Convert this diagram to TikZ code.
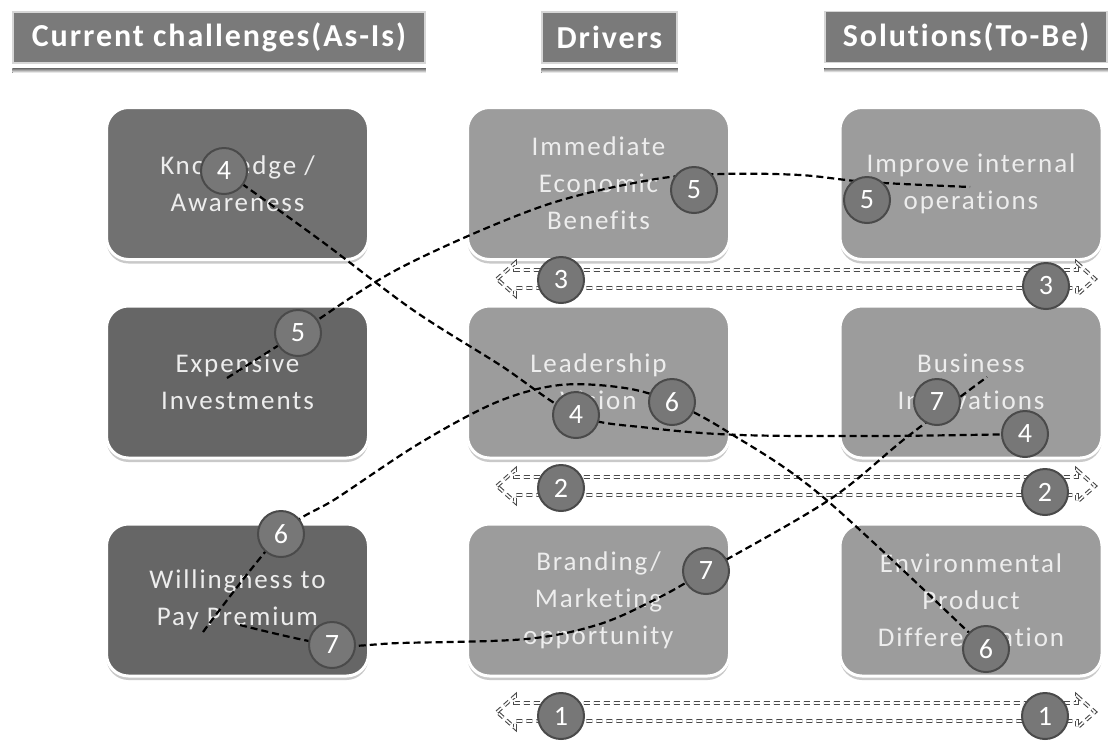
\documentclass[tikz,border=0pt]{standalone}
\usepackage{fontspec}
\setmainfont[Ligatures=NoCommon]{Carlito}
\newfontfamily\boxfont[LetterSpace=7,Ligatures=NoCommon]{Carlito}
\newfontfamily\headfont[LetterSpace=6,Ligatures=NoCommon]{Carlito}
\usetikzlibrary{shadows}
\definecolor{headgray}{HTML}{7A7A7A}
\definecolor{headrim}{HTML}{D6D6D6}
\definecolor{darkbox}{HTML}{666666}
\definecolor{knowbox}{HTML}{717171}
\definecolor{lightbox}{HTML}{9C9C9C}
\definecolor{badgefill}{HTML}{777777}
\definecolor{badgerim}{HTML}{4A4A4A}
\definecolor{boxtext}{HTML}{EDEDED}
\definecolor{shade}{HTML}{C4C4C4}
\definecolor{spanline}{HTML}{4A4A4A}
\pgfdeclarelayer{back}
\pgfdeclarelayer{wires}
\pgfsetlayers{back,wires,main}
\tikzset{
  headbox/.style={fill=headgray, draw=headrim, line width=1.5pt, text=white,
    font={\headfont\bfseries\fontsize{32}{32}\selectfont}, inner sep=0pt, minimum height=51pt},
  cardbase/.style={rounded corners=22pt, draw=white, line width=3pt,
    minimum width=262pt, minimum height=152pt, align=center, text=boxtext, inner sep=0pt,
    font={\boxfont\fontsize{27}{37}\selectfont},
    drop shadow={shadow xshift=0pt, shadow yshift=-4pt, fill=shade, opacity=0.9}},
  darkcard/.style={cardbase, fill=darkbox},
  knowcard/.style={cardbase, fill=knowbox},
  lightcard/.style={cardbase, fill=lightbox},
  badge/.style={circle, minimum size=46pt, inner sep=0pt, fill=badgefill, draw=badgerim,
    line width=2pt, text=white, font={\fontsize{28}{28}\selectfont}},
  wire/.style={draw=black, line width=2.2pt, dash pattern=on 7pt off 4pt},
  gapspan/.style={draw=spanline, line width=1.1pt, double=white, double distance=1.6pt,
    dash pattern=on 6pt off 4pt, line join=miter}
}
\begin{document}
\begin{tikzpicture}[x=1pt,y=-1pt]
\useasboundingbox (0,0) rectangle (1111,740);

\begin{pgfonlayer}{back}
\fill[white] (0,0) rectangle (1111,740);

% ---- cards ----
\node[knowcard] (know) at (237.5,183.5) {Knowledge /\\Awareness};
\node[darkcard] (cost) at (237.5,382) {Expensive\\Investments};
\node[darkcard] (will) at (237.5,600) {Willingness to\\Pay Premium};
\node[lightcard] (econ) at (598.5,183.5) {Immediate\\Economic\\Benefits};
\node[lightcard] (lead) at (598.5,382) {Leadership\\Vision};
\node[lightcard] (brand) at (598.5,600) {Branding/\\Marketing\\opportunity};
\node[lightcard] (oper) at (971,183.5) {Improve internal\\operations};
\node[lightcard] (innov) at (971,382) {Business\\Innovations};
\node[lightcard] (diff) at (971,600) {Environmental\\Product\\Differentiation};

% ---- two-way block arrows between drivers and solutions ----
\foreach \c in {279,486,712}
  \draw[gapspan] (497,\c) -- (515,\c-16) -- (515,\c-9) -- (1077,\c-9) -- (1077,\c-16)
    -- (1095,\c) -- (1077,\c+16) -- (1077,\c+9) -- (515,\c+9) -- (515,\c+16) -- cycle;
\end{pgfonlayer}

% ---- column headers ----
\node[headbox, minimum width=412pt] (hcur) at (219,37.5) {Current challenges(As-Is)};
\node[headbox, minimum width=135pt] (hdrv) at (609.5,37.5) {Drivers};
\node[headbox, minimum width=282pt] (hsol) at (966,37) {Solutions(To-Be)};
\foreach \h in {hcur,hdrv,hsol}
  \fill[shade] ([yshift=-5pt]\h.south west) rectangle ([yshift=-9pt]\h.south east);

% ---- numbered badges ----
\node[badge] (k4) at (224,171) {4};
\node[badge] (e5) at (298,333) {5};
\node[badge] (w6) at (281,534) {6};
\node[badge] (w7) at (332,645) {7};
\node[badge] (i5) at (694,190) {5};
\node[badge] (l4) at (576,415) {4};
\node[badge] (l6) at (672,402) {6};
\node[badge] (b7) at (706,571) {7};
\node[badge] (m5) at (867,200) {5};
\node[badge] (n7) at (937,402) {7};
\node[badge] (n4) at (1025,434) {4};
\node[badge] (v6) at (986,649) {6};
\node[badge] (a3l) at (561,280) {3};
\node[badge] (a3r) at (1046,286) {3};
\node[badge] (a2l) at (561,488) {2};
\node[badge] (a2r) at (1045,492) {2};
\node[badge] (a1l) at (561,716) {1};
\node[badge] (a1r) at (1045,716) {1};

% ---- dashed links ----
\coordinate (s5) at (227,378);
\coordinate (q51) at (400,268);
\coordinate (q52) at (540,207);
\coordinate (q53) at (650,180);
\coordinate (q54) at (722,174);
\coordinate (q55) at (800,175);
\coordinate (q56) at (867,182);
\coordinate (t5) at (970,187);

\coordinate (q41) at (320,240);
\coordinate (q42) at (413,310);
\coordinate (q43) at (500,365);
\coordinate (q44) at (650,428);
\coordinate (q45) at (740,435);
\coordinate (q46) at (880,436);

\coordinate (s6) at (203,632);
\coordinate (q61) at (337,498);
\coordinate (q62) at (420,443);
\coordinate (q63) at (497,402);
\coordinate (q64) at (560,385);
\coordinate (q65) at (625,388);
\coordinate (q66) at (728,432);
\coordinate (q67) at (823,497);

\coordinate (s7) at (240,625);
\coordinate (q71) at (400,643);
\coordinate (q72) at (526,639);
\coordinate (q73) at (600,624);
\coordinate (q74) at (660,597);
\coordinate (q75) at (829,500);
\coordinate (q76) at (907,437);
\coordinate (t7) at (987,377);

\begin{pgfonlayer}{wires}
\draw[wire] plot[smooth, tension=0.55] coordinates {(s5) (e5) (q51) (q52) (q53) (q54) (q55) (q56) (t5)};
\draw[wire] plot[smooth, tension=0.55] coordinates {(k4) (q41) (q42) (q43) (l4) (q44) (q45) (q46) (n4)};
\draw[wire] plot[smooth, tension=0.55] coordinates {(s6) (w6) (q61) (q62) (q63) (q64) (q65) (l6) (q66) (q67) (v6)};
\draw[wire] plot[smooth, tension=0.55] coordinates {(s7) (w7) (q71) (q72) (q73) (q74) (b7) (q75) (q76) (t7)};
\end{pgfonlayer}
\end{tikzpicture}
\end{document}
